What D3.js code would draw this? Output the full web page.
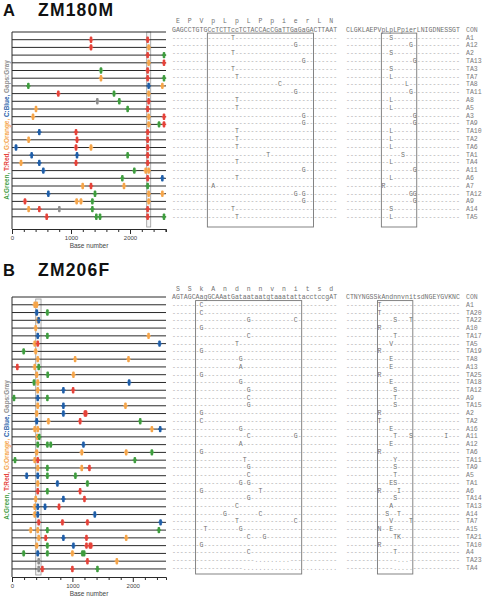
<!DOCTYPE html>
<html><head><meta charset="utf-8">
<script src="https://cdn.jsdelivr.net/npm/d3@7"></script>
<style>body{margin:0;background:#fff}svg{display:block}</style>
</head><body><svg id="c" width="487" height="596"></svg>
<script>
// ---------------- DATA ----------------
const topLetter = "A", topTitle = "ZM180M";
const botLetter = "B", botTitle = "ZM206F";
const axisTicks = [0, 1000, 2000];
const axisLabel = "Base number";
const legendParts = [["A:Green,", "A"], [" T:Red,", "T"], [" G:Orange,", "G"], [" C:Blue,", "C"], [" Gaps:Gray", "-"]];

const topRows = ["CON","A1","A12","A2","TA13","TA3","TA7","TA8","TA11","A8","A5","A3","TA9","TA10","TA2","TA6","TA1","TA4","A11","A6","A7","TA12","A9","A14","TA5"];
const topMarks = [
 [],
 [["T",1339],["T",2299]],
 [["T",1339],["G",2316]],
 [["T",2299],["A",2576]],
 [["G",2316],["T",2576]],
 [["A",1508],["T",2299]],
 [["G",1508],["T",2299],["A",2576]],
 [["A",277],["C",2316],["G",2548]],
 [["T",785],["A",1729],["G",2316]],
 [["-",1446],["A",1819],["T",2316]],
 [["G",407],["A",1960],["T",2299]],
 [["G",356],["G",2316],["T",2576]],
 [["G",2316],["A",2492],["T",2576]],
 [["C",463],["T",1085],["T",2299]],
 [["G",282],["T",1102],["T",2299]],
 [["C",68],["T",1085],["G",1339],["T",2299]],
 [["C",333],["C",1102],["A",1960],["T",2299]],
 [["G",153],["C",463],["T",1085],["T",2299]],
 [["C",531],["A",2073],["G",2266],["G",2316]],
 [["A",1870],["T",2299],["C",2548]],
 [["G",1198],["T",1339],["G",1898],["A",2299]],
 [["C",616],["A",1407],["G",2316],["G",2548]],
 [["T",220],["G",1096],["G",1169],["A",1362],["G",2316]],
 [["G",282],["T",463],["-",802],["A",1362],["T",2299]],
 [["T",588],["A",1429],["A",1492],["T",2299],["A",2576]]
];
const topAmino = ["E","P","V","p","L","p","L","P","p","i","e","r","L","N"];
const topConNuc = "GAGCCTGTGCcTCTTccTCTACCAcCGaTTGaGaGACTTAAT";
const topConProt = "CLGKLAEPVpLpLPpierLNIGDNESSGT";
const topNucMut = [
 [], [[15,"T"]], [[31,"G"]], [[15,"T"]], [[33,"G"]], [[15,"T"]], [[16,"T"]], [[27,"C"]], [[31,"G"]],
 [[16,"T"]], [[16,"T"]], [[33,"G"]], [[33,"G"]], [[16,"T"]], [[16,"T"]], [[16,"T"]], [[24,"T"]],
 [[16,"T"]], [[33,"G"]], [[16,"T"]], [[10,"A"]], [[31,"G"],[33,"G"]], [[33,"G"]], [[15,"T"]], [[16,"T"]]
];
const topProtMut = [
 [], [[11,"S"]], [[16,"G"]], [[11,"S"]], [[17,"G"]], [[11,"S"]], [[11,"L"]], [[15,"L"]], [[16,"G"]],
 [[11,"L"]], [[11,"L"]], [[17,"G"]], [[17,"G"]], [[11,"L"]], [[11,"L"]], [[11,"L"]], [[14,"S"]],
 [[11,"L"]], [[17,"G"]], [[11,"L"]], [[9,"R"]], [[16,"G"],[17,"G"]], [[17,"G"]], [[11,"S"]], [[11,"L"]]
];

const botRows = ["CON","A1","TA20","TA22","A10","TA17","TA5","TA19","TA8","A13","TA25","TA18","TA12","A9","TA15","A2","TA2","A16","A11","A12","TA6","TA11","TA9","A5","TA1","A6","TA14","TA13","A14","TA7","A15","TA21","TA10","A4","TA23","TA4"];
const botMarks = [
 [],
 [["G",376],["G",409]],
 [["C",409],["A",586]],
 [["G",426],["C",442]],
 [["G",392]],
 [["C",426],["A",586],["G",2261]],
 [["G",376],["T",426],["C",2443]],
 [["A",193],["G",392]],
 [["G",426],["G",1045],["G",1929]],
 [["T",88],["G",376],["A",442]],
 [["G",409],["A",591],["G",1017]],
 [["A",365],["G",426],["C",1940]],
 [["G",426],["C",851],["T",1012]],
 [["A",33],["C",426],["A",586]],
 [["G",426],["C",851],["G",1879]],
 [["G",409],["C",851],["T",1208],["T",1225]],
 [["C",409],["G",603],["T",1128],["A",2123]],
 [["G",376],["G",426],["G",2316],["C",2454]],
 [["G",420],["A",452]],
 [["A",426],["A",586],["A",641],["C",1183]],
 [["G",409],["G",1155],["G",1891],["A",2316]],
 [["A",50],["G",376],["T",426],["A",2034]],
 [["G",426],["A",586],["G",1155],["T",1282]],
 [["C",243],["C",426],["A",586],["A",1050]],
 [["G",426],["C",752],["A",1249]],
 [["T",426],["A",586],["T",1128]],
 [["G",392],["C",851],["T",1200]],
 [["G",376],["C",426],["C",547],["T",779]],
 [["G",376],["C",426],["C",1371]],
 [["T",442],["T",835],["T",1249],["C",2460]],
 [["G",310],["G",426],["A",586],["A",2432]],
 [["G",442],["T",558],["C",851],["T",1233],["G",1891]],
 [["G",409],["A",586],["C",1017],["T",1233],["T",1290],["T",1310]],
 [["A",193],["C",426],["A",586],["G",1000],["A",1166],["A",1194]],
 [["-",442],["T",1249],["G",1736]],
 [["-",442],["T",503],["T",1000],["A",1415]]
];
const botAmino = ["S","S","k","A","n","d","n","n","v","n","i","t","s","d"];
const botConNuc = "AGTAGCAagGCAAatGataataatgtaaatattacctccgAT";
const botConProt = "CTNYNGSSkAndnnvnitsdNGEYGVKNC";
// [index, letter] or [start, letter, end] for runs
const botNucMut = [
 [], [[7,"C"]], [[7,"C"]], [[19,"G"],[31,"C"]], [[7,"G"]], [[19,"C"]], [[16,"T"]], [[7,"G"]], [[17,"G"]],
 [[17,"A"]], [[7,"G"]], [[17,"G"]], [[19,"G"]], [[19,"C"]], [[19,"G"]], [[7,"G"]], [[7,"C"]], [[17,"G"]],
 [[19,"C"],[31,"G"]], [[17,"A"]], [[7,"G"]], [[18,"T"]], [[19,"G"]], [[19,"C"]], [[17,"G"],[19,"G"]],
 [[7,"G"],[22,"T"]], [[19,"G"]], [[16,"C"]], [[13,"G"],[22,"C"]], [[16,"T"],[31,"C"]], [[8,"T"],[17,"G"]],
 [[19,"C"],[23,"G"]], [[7,"G"]], [[19,"C"]], [[21,".",29]], [[18,".",41]]
];
const botProtMut = [
 [], [[8,"T"]], [[8,"T"]], [[12,"S"],[16,"T"]], [[8,"R"]], [[12,"T"]], [[11,"V"]], [[8,"R"]], [[11,"E"]],
 [[11,"E"]], [[8,"R"]], [[11,"E"]], [[12,"S"]], [[12,"T"]], [[12,"S"]], [[8,"R"]], [[8,"T"]], [[11,"E"]],
 [[12,"T"],[16,"S"],[25,"I"]], [[11,"E"]], [[8,"R"]], [[12,"Y"]], [[12,"S"]], [[12,"T"]], [[11,"E"],[12,"S"]],
 [[8,"R"],[13,"I"]], [[12,"S"]], [[11,"A"]], [[10,"S"],[13,"T"]], [[11,"V"],[16,"T"]], [[8,"N"],[11,"E"]],
 [[12,"T"],[13,"K"]], [[8,"R"]], [[12,"T"]], [[13,".",15]], [[12,".",16]]
];

// ---------------- DRAWING ----------------
const svg = d3.select("#c");
svg.append("rect").attr("width",487).attr("height",596).attr("fill","#fff");
const COL = {A:"#3f9d3f", T:"#e5433a", G:"#f5a54a", C:"#1f5ea8", "-":"#8e8e8e"};
const mono = "'Liberation Mono','DejaVu Sans Mono',monospace";
const sans = "'Liberation Sans',Arial,Helvetica,sans-serif";
const CW = 3.93, NUCX = 172, PROTX = 346, LABX = 466;

function buildRow(len, muts){
  const a = new Array(len).fill("-");
  muts.forEach(m => {
    if (m.length === 3) { for (let i = m[0]; i <= m[2]; i++) a[i] = m[1]; }
    else a[m[0]] = m[1];
  });
  return a;
}

function drawPanel(cfg){
  const g = svg.append("g");
  g.append("text").attr("x",3).attr("y",cfg.titleY).text(cfg.letter)
    .attr("font-family",sans).attr("font-weight","bold").attr("font-size",16.5).attr("fill","#111");
  g.append("text").attr("x",38).attr("y",cfg.titleY).text(cfg.title)
    .attr("font-family",sans).attr("font-weight","bold").attr("font-size",17.5)
    .attr("letter-spacing",1.2).attr("fill","#111");

  const x = d3.scaleLinear().domain([0, cfg.len]).range([12, 166]);
  const ly = i => cfg.lineY0 + i * cfg.lineDy;

  // highlighted region box
  g.append("rect").attr("x", x(cfg.box[0])).attr("width", x(cfg.box[1]) - x(cfg.box[0]))
    .attr("y", cfg.boxY[0]).attr("height", cfg.boxY[1] - cfg.boxY[0])
    .attr("fill","#f4f4f4").attr("stroke","#9a9a9a").attr("stroke-width",0.8);

  // sequence lines
  g.selectAll("line.seq").data(cfg.rows).join("line").attr("class","seq")
    .attr("x1", x(0)).attr("x2", x(cfg.len)).attr("y1",(d,i)=>ly(i)).attr("y2",(d,i)=>ly(i))
    .attr("stroke","#2a2a2a").attr("stroke-width",1);

  // left axis line
  g.append("line").attr("x1",12).attr("x2",12).attr("y1",ly(0)).attr("y2",cfg.axisY)
    .attr("stroke","#2a2a2a").attr("stroke-width",1);

  // x axis
  const ax = g.append("g").attr("transform",`translate(0,${cfg.axisY})`)
    .call(d3.axisBottom(x).tickValues(d3.range(0, cfg.len, 200)).tickSizeOuter(0).tickSize(3)
      .tickFormat(d => axisTicks.includes(d) ? d : ""));
  ax.select(".domain").attr("stroke","#2a2a2a");
  ax.selectAll(".tick line").attr("stroke","#2a2a2a").attr("y2", d => axisTicks.includes(d) ? 5 : 3);
  ax.selectAll(".tick text").attr("font-family",sans).attr("font-size",6).attr("fill","#444").attr("y",6.5);
  g.append("text").attr("x",89).attr("y",cfg.axisY + 19).attr("text-anchor","middle")
    .attr("font-family",sans).attr("font-size",6.5).attr("fill","#444").text(axisLabel);

  // marks
  cfg.marks.forEach((row, i) => {
    const gg = g.append("g");
    gg.selectAll("rect.v").data(row).join("rect").attr("class","v")
      .attr("x", d => x(d[1]) - 1.3).attr("y", ly(i) - 3.2).attr("width",2.6).attr("height",6.4).attr("rx",1)
      .attr("fill", d => COL[d[0]]);
    gg.selectAll("rect.h").data(row).join("rect").attr("class","h")
      .attr("x", d => x(d[1]) - 2.2).attr("y", ly(i) - 0.75).attr("width",4.4).attr("height",1.5)
      .attr("fill", d => COL[d[0]]);
  });

  // legend (rotated)
  const lt = g.append("text").attr("transform",`translate(8.5,${cfg.legendY}) rotate(-90)`)
    .attr("text-anchor","middle").attr("font-family",sans).attr("font-weight","bold").attr("font-size",6.4);
  legendParts.forEach(p => lt.append("tspan").attr("fill", COL[p[1]]).text(p[0]));

  // ---- alignment ----
  const ty = i => cfg.textY0 + i * cfg.textDy;
  const a = g.append("g").attr("font-family",mono).attr("font-size",6.5).attr("text-anchor","middle");
  // amino row
  a.selectAll("text.aa").data(cfg.amino).join("text").attr("class","aa")
    .attr("x",(d,i)=> NUCX + (3*i + 1.5) * CW).attr("y", ty(0) - 8.5).attr("dy","0.35em")
    .attr("fill","#707070").text(d => d);

  const rowsNuc = cfg.rows.map((r,i) => i === 0 ? cfg.conNuc.split("") : buildRow(cfg.conNuc.length, cfg.nucMut[i]));
  const rowsProt = cfg.rows.map((r,i) => i === 0 ? cfg.conProt.split("") : buildRow(cfg.conProt.length, cfg.protMut[i]));
  function drawChars(rows, x0){
    rows.forEach((chars, i) => {
      a.append("g").selectAll("text").data(chars).join("text")
        .attr("x",(d,j)=> x0 + (j + 0.5) * CW).attr("y", ty(i)).attr("dy","0.35em")
        .attr("fill", d => i === 0 ? "#707070" : (d === "-" || d === "." ? "#ababab" : "#707070"))
        .text(d => d);
    });
  }
  drawChars(rowsNuc, NUCX);
  drawChars(rowsProt, PROTX);
  a.selectAll("text.lab").data(cfg.rows).join("text").attr("class","lab")
    .attr("x", LABX).attr("y",(d,i)=>ty(i)).attr("dy","0.35em").attr("text-anchor","start")
    .attr("fill","#7a7a7a").text(d => d);

  // alignment boxes
  const bY0 = ty(0) + 3.6, bY1 = cfg.alnBoxBottom;
  [[NUCX, cfg.nucBox], [PROTX, cfg.protBox]].forEach(([x0, b]) => {
    g.append("rect").attr("x", x0 + b[0] * CW).attr("width", (b[1] - b[0]) * CW)
      .attr("y", bY0).attr("height", bY1 - bY0)
      .attr("fill","none").attr("stroke","#777").attr("stroke-width",0.9);
  });
}

drawPanel({
  letter: topLetter, title: topTitle, titleY: 16,
  len: 2610, lineY0: 32, lineDy: 7.7, axisY: 229, box: [2283, 2351], boxY: [32, 227],
  rows: topRows, marks: topMarks, legendY: 130,
  textY0: 29.5, textDy: 7.8, amino: topAmino, conNuc: topConNuc, conProt: topConProt,
  nucMut: topNucMut, protMut: topProtMut, nucBox: [9, 36], protBox: [9, 18], alnBoxBottom: 227
});
drawPanel({
  letter: botLetter, title: botTitle, titleY: 276,
  len: 2550, lineY0: 297, lineDy: 7.77, axisY: 577, box: [393, 481], boxY: [299, 575],
  rows: botRows, marks: botMarks, legendY: 450,
  textY0: 297, textDy: 7.73, amino: botAmino, conNuc: botConNuc, conProt: botConProt,
  nucMut: botNucMut, protMut: botProtMut, nucBox: [6, 33], protBox: [8, 17], alnBoxBottom: 574
});
</script></body></html>
